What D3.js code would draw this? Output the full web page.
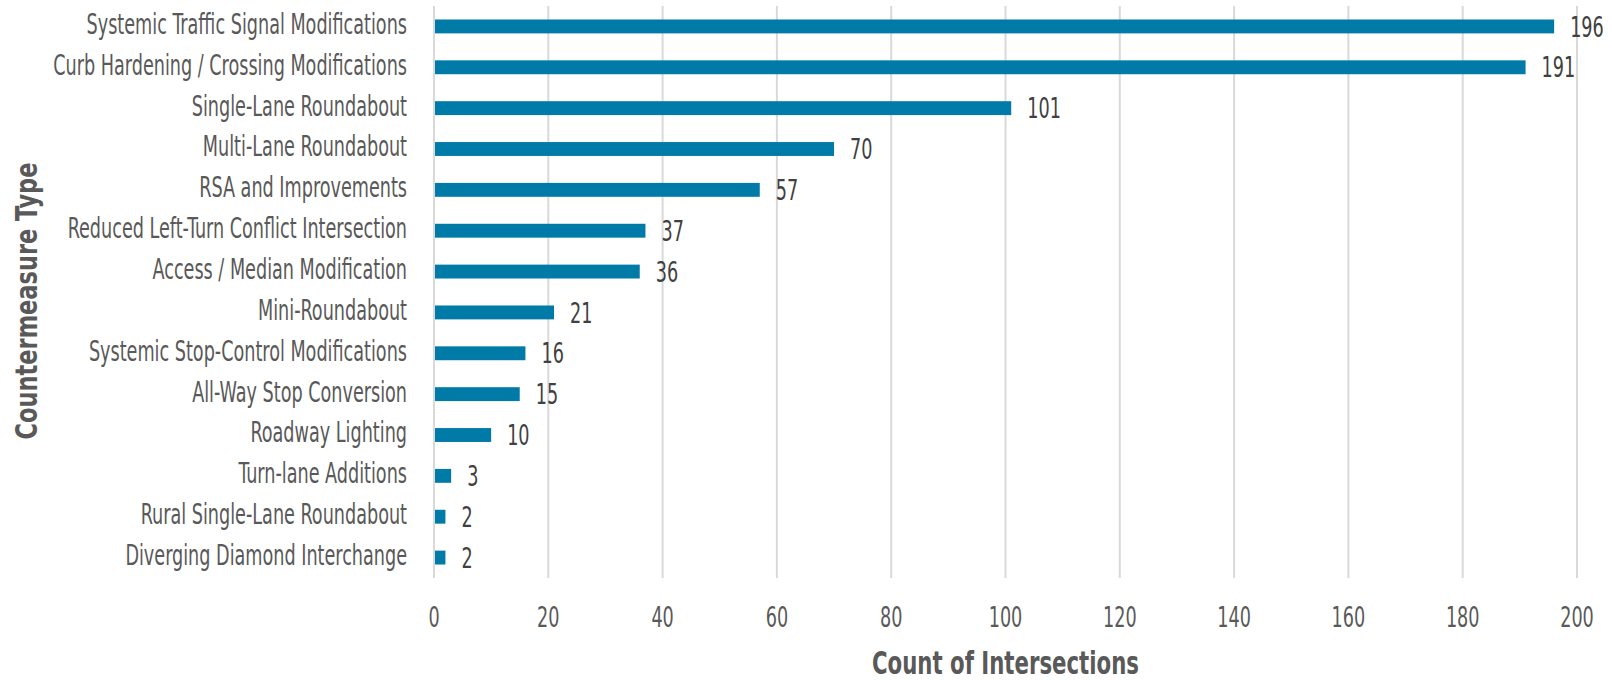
<!DOCTYPE html>
<html>
<head>
<meta charset="utf-8">
<script src="https://cdn.jsdelivr.net/npm/d3@7"></script>
<style>
  html, body { margin: 0; padding: 0; background: #ffffff; }
  svg { display: block; }
  text { font-family: "Liberation Sans Narrow", "Arial Narrow", "DejaVu Sans Condensed", sans-serif; }
</style>
</head>
<body>
<svg id="chart" width="1612" height="680"></svg>
<script>
// Countermeasure types and number of intersections for each
const categories = [
  "Systemic Traffic Signal Modifications",
  "Curb Hardening / Crossing Modifications",
  "Single-Lane Roundabout",
  "Multi-Lane Roundabout",
  "RSA and Improvements",
  "Reduced Left-Turn Conflict Intersection",
  "Access / Median Modification",
  "Mini-Roundabout",
  "Systemic Stop-Control Modifications",
  "All-Way Stop Conversion",
  "Roadway Lighting",
  "Turn-lane Additions",
  "Rural Single-Lane Roundabout",
  "Diverging Diamond Interchange"
];
const counts = [196, 191, 101, 70, 57, 37, 36, 21, 16, 15, 10, 3, 2, 2];
const xTicks = [0, 20, 40, 60, 80, 100, 120, 140, 160, 180, 200];
const xTitle = "Count of Intersections";
const yTitle = "Countermeasure Type";

const rows = categories.map((c, i) => ({ category: c, count: counts[i] }));

const svg = d3.select("#chart");
const plot = { left: 434, right: 1577, top: 6, bottom: 578 };
const labelRight = 407;          // right edge of category labels
const labelSpace = 354;          // width available for the longest category label
const barColor = "#007ba7";
const gridColor = "#d9d9d9";
const textColor = "#595959";
const valueColor = "#404040";
const fontSize = 27.5;

const x = d3.scaleLinear().domain([0, 200]).range([plot.left, plot.right]);
const y = d3.scaleBand().domain(categories).range([plot.top, plot.bottom])
  .paddingInner(0.66).paddingOuter(0.33);

// Measure text so the condensed look fits the label margin whatever face is used
function measure(str, size, weight) {
  const t = svg.append("text").attr("font-size", size).attr("font-weight", weight || "normal").text(str);
  const w = t.node().getComputedTextLength();
  t.remove();
  return w;
}
const longest = d3.max(categories, c => measure(c, fontSize));
const squeeze = Math.min(1, labelSpace / longest);
const xTitleSqueeze = Math.min(1, 267 / measure(xTitle, 32, "bold"));
const yTitleSqueeze = Math.min(1, 277 / measure(yTitle, 31, "bold"));

// Vertical gridlines (including the zero line)
svg.append("g").selectAll("line").data(xTicks).join("line")
  .attr("x1", d => x(d)).attr("x2", d => x(d))
  .attr("y1", plot.top).attr("y2", plot.bottom)
  .attr("stroke", gridColor).attr("stroke-width", 2);

// Bars
svg.append("g").selectAll("rect").data(rows).join("rect")
  .attr("x", x(0) + 1)
  .attr("y", d => y(d.category))
  .attr("width", d => x(d.count) - x(0) - 1)
  .attr("height", y.bandwidth())
  .attr("fill", barColor);

// Helper: horizontally squeezed text anchored at (px, py)
function squeezedText(sel, px, py, anchor, sx) {
  return sel.append("g").attr("transform", `translate(${px},${py})`)
    .append("text").attr("transform", `scale(${sx},1)`)
    .attr("text-anchor", anchor);
}

// Category labels
const catG = svg.append("g");
rows.forEach(d => {
  squeezedText(catG, labelRight, y(d.category) + y.bandwidth() / 2, "end", squeeze)
    .attr("dy", "0.27em")
    .attr("font-size", fontSize)
    .attr("fill", textColor)
    .text(d.category);
});

// Value labels
const valG = svg.append("g");
rows.forEach(d => {
  squeezedText(valG, x(d.count) + 16, y(d.category) + y.bandwidth() / 2, "start", squeeze)
    .attr("dy", "0.37em")
    .attr("font-size", fontSize)
    .attr("fill", valueColor)
    .text(d.count);
});

// X tick labels
const tickG = svg.append("g");
xTicks.forEach(t => {
  squeezedText(tickG, x(t), 617, "middle", squeeze)
    .attr("dy", "0.36em")
    .attr("font-size", fontSize)
    .attr("fill", textColor)
    .text(t);
});

// Axis titles
squeezedText(svg, (plot.left + plot.right) / 2, 674, "middle", xTitleSqueeze)
  .attr("font-size", 32)
  .attr("font-weight", "bold")
  .attr("fill", textColor)
  .text(xTitle);

svg.append("g").attr("transform", "translate(37,301) rotate(-90)")
  .append("text")
  .attr("transform", `scale(${yTitleSqueeze},1)`)
  .attr("text-anchor", "middle")
  .attr("font-size", 31)
  .attr("font-weight", "bold")
  .attr("fill", textColor)
  .text(yTitle);
</script>
</body>
</html>
